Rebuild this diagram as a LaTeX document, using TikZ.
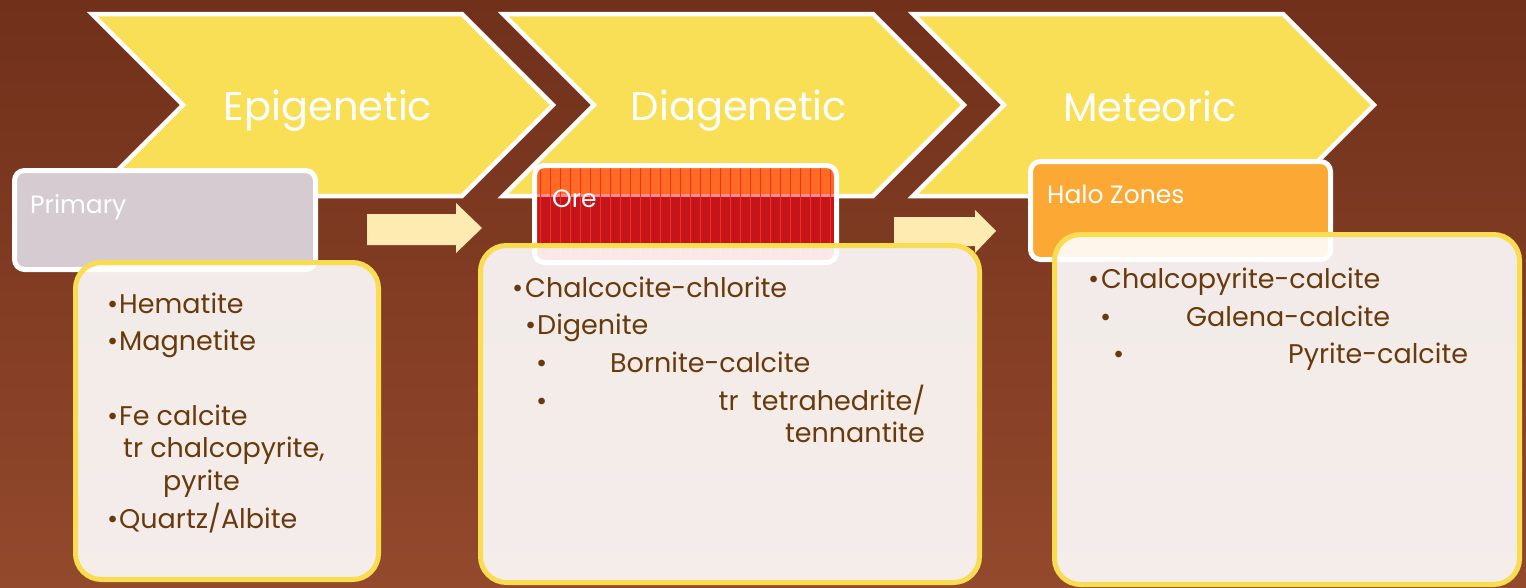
\documentclass[tikz,border=0pt]{standalone}
\usepackage{fontspec}
\setmainfont{Poppins}
\usetikzlibrary{patterns.meta}

\begin{document}
\begin{tikzpicture}[
    x=1pt, y=-1pt,
    chevron/.style={
        fill=chevcol,
        draw=white,
        line width=4.5pt,
        line join=miter
    },
    chevlabel/.style={
        anchor=base,
        text=white,
        inner sep=0pt,
        font=\fontsize{40}{44}\selectfont
    },
    headbox/.style={
        draw=white,
        line width=5pt,
        rounded corners=10pt
    },
    headlabel/.style={
        anchor=base west,
        text=white,
        inner sep=0pt,
        font=\fontsize{25}{28}\selectfont
    },
    listbox/.style={
        fill=listcol,
        fill opacity=0.9,
        draw=listline,
        line width=5pt,
        rounded corners=26pt
    },
    item/.style={
        anchor=base west,
        text=itemcol,
        inner sep=0pt,
        font=\fontsize{27}{30}\selectfont
    },
    blockarrow/.style={
        fill=arrowcol
    }
]

% ---------------------------------
% Colors
% ---------------------------------
\definecolor{bgtop}{HTML}{70301A}
\definecolor{bgbot}{HTML}{93492C}
\definecolor{chevcol}{HTML}{F9DF55}
\definecolor{primcol}{HTML}{D5CBD1}
\definecolor{orecol}{HTML}{C4161A}
\definecolor{oretop}{HTML}{FF6A24}
\definecolor{orestripe}{HTML}{FF2A1E}
\definecolor{halocol}{HTML}{FCA834}
\definecolor{arrowcol}{HTML}{FDEBB2}
\definecolor{listcol}{HTML}{FFFFFF}
\definecolor{listline}{HTML}{F9DC50}
\definecolor{itemcol}{HTML}{683A0C}

% ---------------------------------
% Background
% ---------------------------------
\useasboundingbox (0,0) rectangle (1526,587);
\shade[top color=bgtop, bottom color=bgbot] (0,0) rectangle (1526,587);

% ---------------------------------
% Chevrons
% ---------------------------------
\draw[chevron] (92,14) -- (462,14) -- (553,105) -- (462,196) -- (92,196) -- (183,105) -- cycle;
\draw[chevron] (503,14) -- (873,14) -- (964,105) -- (873,196) -- (503,196) -- (594,105) -- cycle;
\draw[chevron] (913,14) -- (1283,14) -- (1374,105) -- (1283,196) -- (913,196) -- (1004,105) -- cycle;

\node[chevlabel] (epi) at (328,120) {Epigenetic};
\node[chevlabel] (dia) at (739,120) {Diagenetic};
\node[chevlabel] (met) at (1150,121) {Meteoric};

% ---------------------------------
% Block arrows
% ---------------------------------
\fill[blockarrow] (367,214) -- (456,214) -- (456,203) -- (482,228) -- (456,253) -- (456,245) -- (367,245) -- cycle;
\fill[blockarrow] (894,217) -- (975,217) -- (975,210) -- (996,231) -- (975,253) -- (975,246) -- (894,246) -- cycle;

% ---------------------------------
% Header boxes
% ---------------------------------
\fill[primcol, rounded corners=10pt] (14.5,170.5) rectangle (315.5,269.5);
\draw[headbox] (14.5,170.5) rectangle (315.5,269.5);
\node[headlabel] (prim) at (30,213) {Primary};

\begin{scope}
    \clip[rounded corners=10pt] (534.5,165.5) rectangle (836.5,262.5);
    \fill[orecol] (534.5,165.5) rectangle (836.5,262.5);
    \fill[oretop] (534.5,165.5) rectangle (836.5,195);
    \fill[red!45!white] (534.5,193.5) rectangle (836.5,197);
    \fill[pattern={Lines[angle=90,distance=10pt,line width=0.6pt]}, pattern color=orestripe]
        (534.5,165.5) rectangle (836.5,262.5);
\end{scope}
\draw[headbox] (534.5,165.5) rectangle (836.5,262.5);
\node[headlabel] (ore) at (552,207) {Ore};

\fill[halocol, rounded corners=10pt] (1030.5,161.5) rectangle (1330.5,259.5);
\draw[headbox] (1030.5,161.5) rectangle (1330.5,259.5);
\node[headlabel] (halo) at (1047,203) {Halo Zones};

% ---------------------------------
% Mineral lists
% ---------------------------------
\draw[listbox] (75.5,262.5) rectangle (378.5,579.5);
\draw[listbox] (480.5,245.5) rectangle (979.5,582.5);
\draw[listbox] (1054.5,234.5) rectangle (1519.5,584.5);

% Primary
\node[item] (hem) at (107,313) {\makebox[12pt][l]{•}Hematite};
\node[item] (mag) at (107,350) {\makebox[12pt][l]{•}Magnetite};
\node[item] (fec) at (107,425) {\makebox[12pt][l]{•}Fe calcite};
\node[item] (trc) at (123,457) {tr chalcopyrite,};
\node[item] (pyr) at (163,490) {pyrite};
\node[item] (qua) at (107,528) {\makebox[12pt][l]{•}Quartz/Albite};

% Ore
\node[item] (chl) at (512,297) {\makebox[13pt][l]{•}Chalcocite-chlorite};
\node[item] (dig) at (525,334) {\makebox[12pt][l]{•}Digenite};
\node[item] (bor) at (536,372) {\makebox[74pt][l]{•}Bornite-calcite};
\node[item] (tet) at (536,410) {\makebox[389pt][l]{•\hfill tr\enspace tetrahedrite/}};
\node[item, anchor=base east] (ten) at (925,442) {tennantite};

% Halo zones
\node[item] (cpy) at (1088,288) {\makebox[13pt][l]{•}Chalcopyrite-calcite};
\node[item] (gal) at (1100,326) {\makebox[86pt][l]{•}Galena-calcite};
\node[item] (pyc) at (1113,363) {\makebox[175pt][l]{•}Pyrite-calcite};

\end{tikzpicture}
\end{document}
